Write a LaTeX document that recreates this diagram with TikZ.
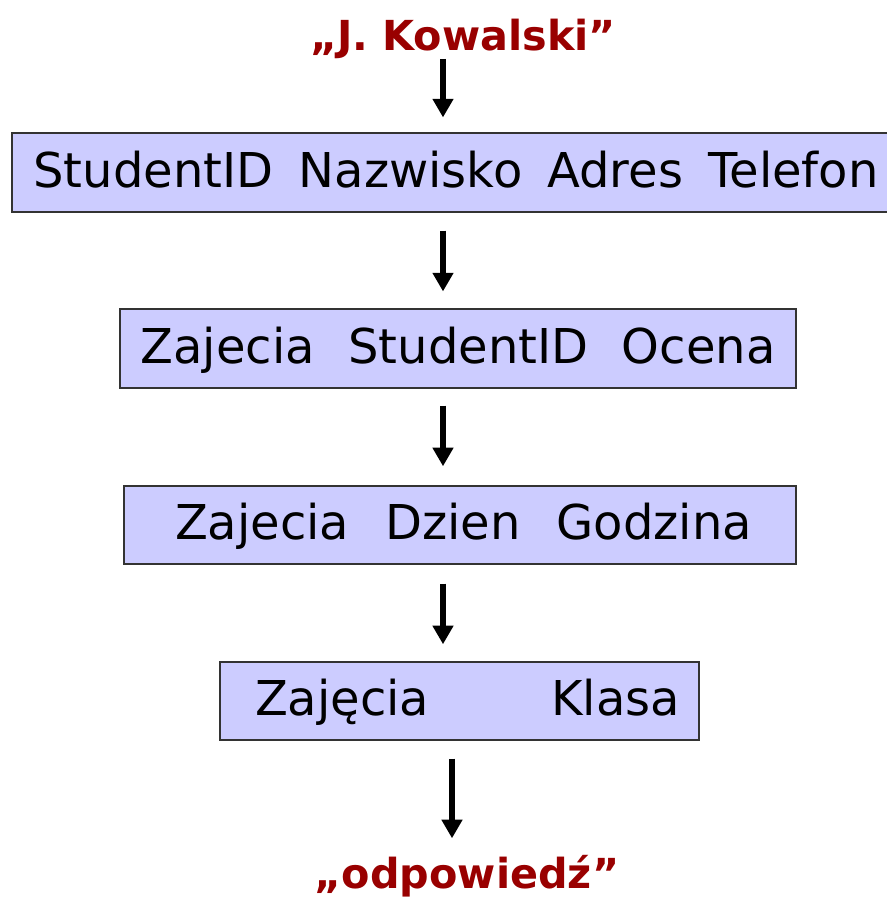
\documentclass[tikz,border=0pt]{standalone}
\usepackage{fontspec}
\setmainfont{DejaVu Sans}
\usetikzlibrary{arrows.meta}

\definecolor{relfill}{RGB}{204,204,255}
\definecolor{quotered}{RGB}{153,0,0}

\tikzset{every picture/.style={line width=0.75pt}}
\tikzset{
  relation/.style={draw=black!80, fill=relfill, line width=1.1pt, inner sep=0pt,
    minimum height=59pt, text height=28pt, text depth=6pt, font=\fontsize{36}{40}\selectfont},
  quote/.style={text=quotered, inner sep=0pt, font=\fontsize{31}{36}\selectfont\bfseries},
  flow/.style={-{Triangle[length=14pt,width=15pt]}, line width=4pt},
}
% spread the field names of one relation over a given width
\newcommand{\fields}[3]{\hspace*{#1}\makebox[#2]{#3}}

\begin{document}
\begin{tikzpicture}[x=0.75pt,y=0.75pt,yscale=-1,xscale=1]
\useasboundingbox (0,0) rectangle (887,903);
\clip (0,0) rectangle (887,903);

\coordinate (axis) at (443,0);
\coordinate (axisb) at (452,0);

% Text Node
\node[quote, anchor=base] (query) at (463,50) {„J. Kowalski”};

%Shape: Rectangle
\node[relation, minimum width=660pt] (student) at (452,172.5)
  {\fields{6pt}{633.75pt}{StudentID\hfill Nazwisko\hfill Adres\hfill Telefon}};
%Shape: Rectangle
\node[relation, minimum width=507pt] (grade) at (458,348.5)
  {\fields{0pt}{476.25pt}{Zajecia\hfill StudentID\hfill Ocena}};
%Shape: Rectangle
\node[relation, minimum width=504pt, minimum height=58.5pt] (schedule) at (460,525)
  {\fields{5.25pt}{432.75pt}{Zajecia\hfill Dzien\hfill Godzina}};
%Shape: Rectangle
\node[relation, minimum width=359.25pt, minimum height=58.5pt] (room) at (459.5,701)
  {\fields{12pt}{318.75pt}{Zajęcia\hfill Klasa}};

% Text Node
\node[quote, anchor=base] (answer) at (467,888) {„odpowiedź”};

%Straight Lines
\draw[flow, shorten <=0pt, shorten >=11.25pt] (query.south -| axis) -- (student.north -| axis);
\draw[flow, shorten <=13.5pt, shorten >=12.75pt] (student.south -| axis) -- (grade.north -| axis);
\draw[flow, shorten <=12.75pt, shorten >=14.25pt] (grade.south -| axis) -- (schedule.north -| axis);
\draw[flow, shorten <=14.25pt, shorten >=12.75pt] (schedule.south -| axis) -- (room.north -| axis);
\draw[flow, shorten <=13.5pt, shorten >=12pt] (room.south -| axisb) -- (answer.north -| axisb);

\end{tikzpicture}
\end{document}
